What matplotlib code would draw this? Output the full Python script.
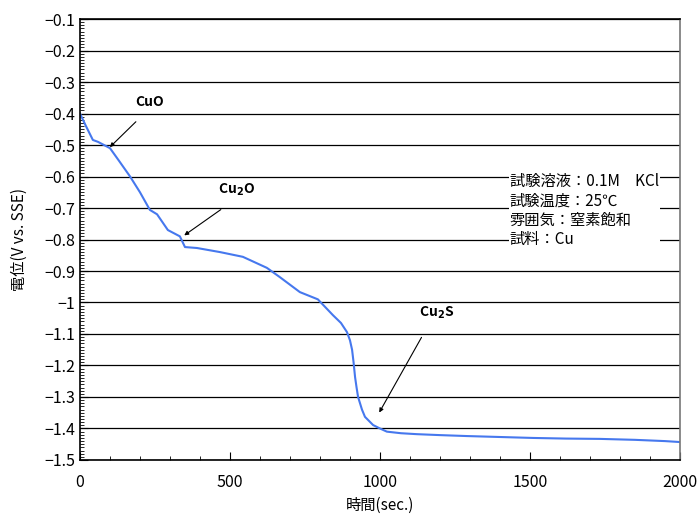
import numpy as np
import matplotlib.pyplot as plt
from matplotlib.ticker import MultipleLocator

plt.rcParams['font.family'] = ['Noto Sans CJK JP', 'DejaVu Sans']

# 時間(sec.) と 電位(V vs. SSE) — 図から読み取った値
time_s = [0, 20, 43, 60, 80, 100, 130, 167, 200, 233, 257, 293, 333, 350, 390,
          467, 543, 623, 667, 733, 793, 843, 870, 890, 900, 907, 912, 917, 922,
          927, 940, 950, 977, 1000, 1023, 1070, 1123, 1200, 1290, 1400, 1510,
          1620, 1733, 1850, 1950, 2000]
potential = [-0.40, -0.44, -0.484, -0.49, -0.50, -0.51, -0.55, -0.60, -0.65,
             -0.706, -0.72, -0.77, -0.79, -0.824, -0.827, -0.84, -0.855, -0.89,
             -0.92, -0.967, -0.99, -1.04, -1.065, -1.094, -1.12, -1.15, -1.19,
             -1.237, -1.27, -1.30, -1.34, -1.363, -1.389, -1.40, -1.41, -1.415,
             -1.418, -1.421, -1.424, -1.427, -1.430, -1.432, -1.433, -1.436,
             -1.440, -1.443]

info_lines = ["試験溶液：0.1M　KCl", "試験温度：25℃", "雰囲気：窒素飽和", "試料：Cu"]

fig = plt.figure(figsize=(6.99, 5.15), dpi=100)
ax = fig.add_axes([0.1144, 0.1068, 0.8584, 0.8563])

ax.plot(time_s, potential, color='#4678ee', lw=1.5)

ax.set_xlim(0, 2000)
ax.set_ylim(-1.5, -0.1)
ax.xaxis.set_major_locator(MultipleLocator(500))
ax.xaxis.set_minor_locator(MultipleLocator(100))
ax.yaxis.set_major_locator(MultipleLocator(0.1))
ax.yaxis.set_minor_locator(MultipleLocator(0.01))
ax.yaxis.set_major_formatter(plt.FuncFormatter(lambda v, p: f"{v:.1f}".replace('-', '\u2212').replace('\u22121.0', '\u22121').replace('\u22120.0', '0')))
ax.grid(axis='y', which='major', color='black', lw=0.9)
ax.tick_params(which='both', direction='in', labelsize=11.5, top=False, right=False)
ax.tick_params(which='major', length=6)
ax.tick_params(which='minor', length=3)
ax.tick_params(axis='x', pad=10)
for s in ax.spines.values():
    s.set_linewidth(1.2)
ax.spines['right'].set_color('#777777')

ax.set_xlabel("時間(sec.)", fontsize=11, labelpad=4)
ax.set_ylabel("電位(V vs. SSE)", fontsize=11, labelpad=12)

arrow = dict(arrowstyle='-|>', color='black', lw=0.8, mutation_scale=6)
ax.annotate("", xy=(93, -0.513), xytext=(193, -0.42), arrowprops=arrow)
ax.text(233, -0.363, "CuO", fontsize=10, fontweight='bold', ha='center', va='center')
ax.annotate("", xy=(340, -0.792), xytext=(477, -0.70), arrowprops=arrow)
ax.text(523, -0.643, "Cu$_\\mathbf{2}$O", fontsize=10, fontweight='bold', ha='center', va='center')
ax.annotate("", xy=(993, -1.357), xytext=(1143, -1.103), arrowprops=arrow)
ax.text(1190, -1.033, "Cu$_\\mathbf{2}$S", fontsize=10, fontweight='bold', ha='center', va='center')

ax.text(1433, -0.59, "\n".join(info_lines), fontsize=11, ha='left', va='top',
        linespacing=1.18, bbox=dict(facecolor='white', edgecolor='none', pad=1))

fig.savefig("out.png", dpi=100)
